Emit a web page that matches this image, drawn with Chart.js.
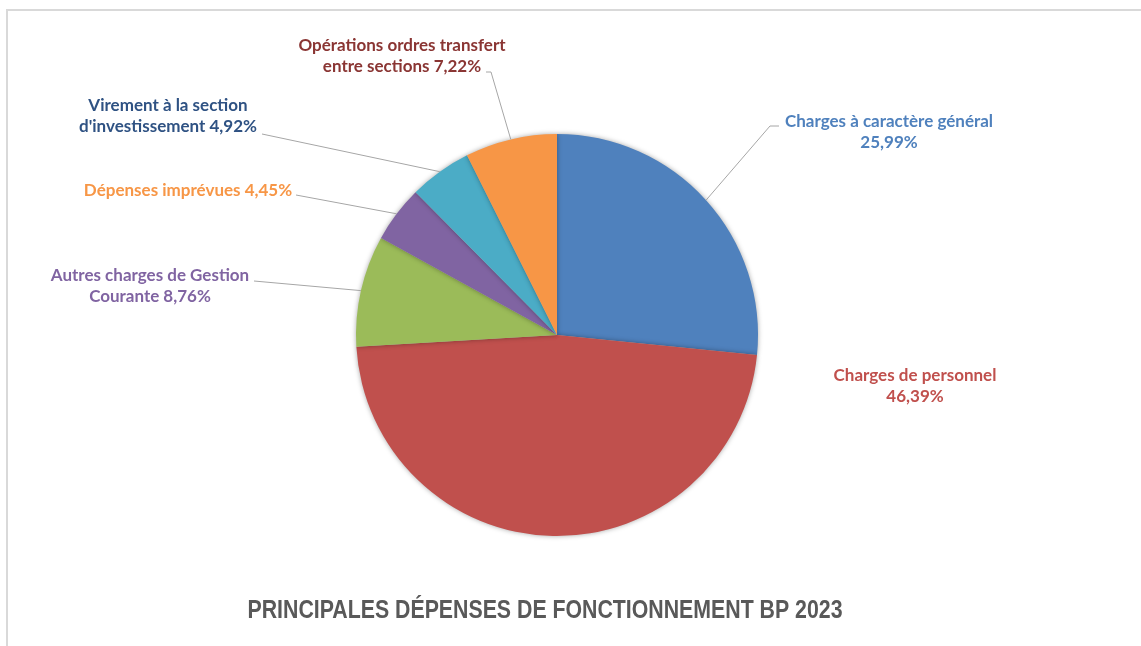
<!DOCTYPE html>
<html>
<head>
<meta charset="utf-8">
<script src="https://cdn.jsdelivr.net/npm/chart.js@4"></script>
<style>
    html, body { margin: 0; padding: 0; background: #fff; }
    #wrap { position: relative; width: 1141px; height: 646px; }
</style>
</head>
<body>
<div id="wrap"><canvas id="myChart"></canvas></div>
<script>
// Budget lines and their share (%)
const categories = [
    'Charges à caractère général',
    'Charges de personnel',
    'Autres charges de Gestion Courante',
    'Dépenses imprévues',
    "Virement à la section d'investissement",
    'Opérations ordres transfert entre sections'
];
const shares = [25.99, 46.39, 8.76, 4.45, 4.92, 7.22];
const valueLabels = ['25,99%', '46,39%', '8,76%', '4,45%', '4,92%', '7,22%'];
const sliceColors = ['#4F81BD', '#C0504D', '#9BBB59', '#8064A2', '#4BACC6', '#F79646'];
const chartTitle = 'PRINCIPALES DÉPENSES DE FONCTIONNEMENT BP 2023';

// label text lines, colour, where the block sits, and where its leader line ends
const labelSetup = [
    { lines: ['Charges à caractère général', valueLabels[0]], color: '#4F81BD', x: 889, y: 122, hook: [779, 126], elbow: [770, 126] },
    { lines: ['Charges de personnel', valueLabels[1]], color: '#C0504D', x: 915, y: 376 },
    { lines: ['Autres charges de Gestion', 'Courante ' + valueLabels[2]], color: '#8064A2', x: 150, y: 276, hook: [254, 281] },
    { lines: ['Dépenses imprévues ' + valueLabels[3]], color: '#F79646', x: 188, y: 191, hook: [296, 195] },
    { lines: ['Virement à la section', "d'investissement " + valueLabels[4]], color: '#2F5283', x: 168, y: 106, hook: [262, 134] },
    { lines: ['Opérations ordres transfert', 'entre sections ' + valueLabels[5]], color: '#8A3533', x: 402, y: 46, hook: [486, 72], elbow: [491, 72] }
];

const pieLabels = {
    id: 'pieLabels',
    beforeDraw(chart) {
        const ctx = chart.ctx;
        ctx.save();
        ctx.strokeStyle = '#d9d9d9';
        ctx.lineWidth = 2;
        ctx.strokeRect(7, 10, 1200, 700);
        ctx.restore();
    },
    beforeDatasetsDraw(chart) {
        const ctx = chart.ctx;
        ctx.save();
        ctx.shadowColor = 'rgba(0,0,0,0.35)';
        ctx.shadowBlur = 5;
    },
    afterDatasetsDraw(chart) {
        const ctx = chart.ctx;
        ctx.restore();
        const arcs = chart.getDatasetMeta(0).data;
        ctx.save();
        ctx.font = 'bold 17px Lato, "Open Sans", sans-serif';
        ctx.textAlign = 'center';
        ctx.textBaseline = 'middle';
        arcs.forEach((arc, i) => {
            const s = labelSetup[i];
            if (s.hook) {
                const p = arc.getProps(['x', 'y', 'startAngle', 'endAngle', 'outerRadius'], true);
                const mid = (p.startAngle + p.endAngle) / 2;
                const ex = p.x + Math.cos(mid) * p.outerRadius;
                const ey = p.y + Math.sin(mid) * p.outerRadius;
                ctx.strokeStyle = '#a6a6a6';
                ctx.lineWidth = 1;
                ctx.beginPath();
                ctx.moveTo(s.hook[0], s.hook[1]);
                if (s.elbow) ctx.lineTo(s.elbow[0], s.elbow[1]);
                ctx.lineTo(ex, ey);
                ctx.stroke();
            }
            ctx.fillStyle = s.color;
            s.lines.forEach((line, j) => {
                ctx.fillText(line, s.x, s.y + j * 21);
            });
        });
        // chart title under the pie, squeezed to a narrow face
        ctx.fillStyle = '#595959';
        ctx.font = 'bold 25px "Liberation Sans Narrow", "Liberation Sans", sans-serif';
        const w = ctx.measureText(chartTitle).width;
        ctx.translate(545, 611);
        ctx.scale(595 / w, 1);
        ctx.fillText(chartTitle, 0, 0);
        ctx.restore();
    }
};

new Chart(document.getElementById('myChart'), {
    type: 'pie',
    data: {
        labels: categories,
        datasets: [{
            data: shares,
            backgroundColor: sliceColors,
            borderWidth: 0
        }]
    },
    options: {
        responsive: true,
        maintainAspectRatio: false,
        animation: false,
        layout: {
            padding: { top: 134, bottom: 110, left: 0, right: 27 }
        },
        plugins: {
            legend: { display: false },
            tooltip: { enabled: false }
        }
    },
    plugins: [pieLabels]
});
</script>
</body>
</html>
